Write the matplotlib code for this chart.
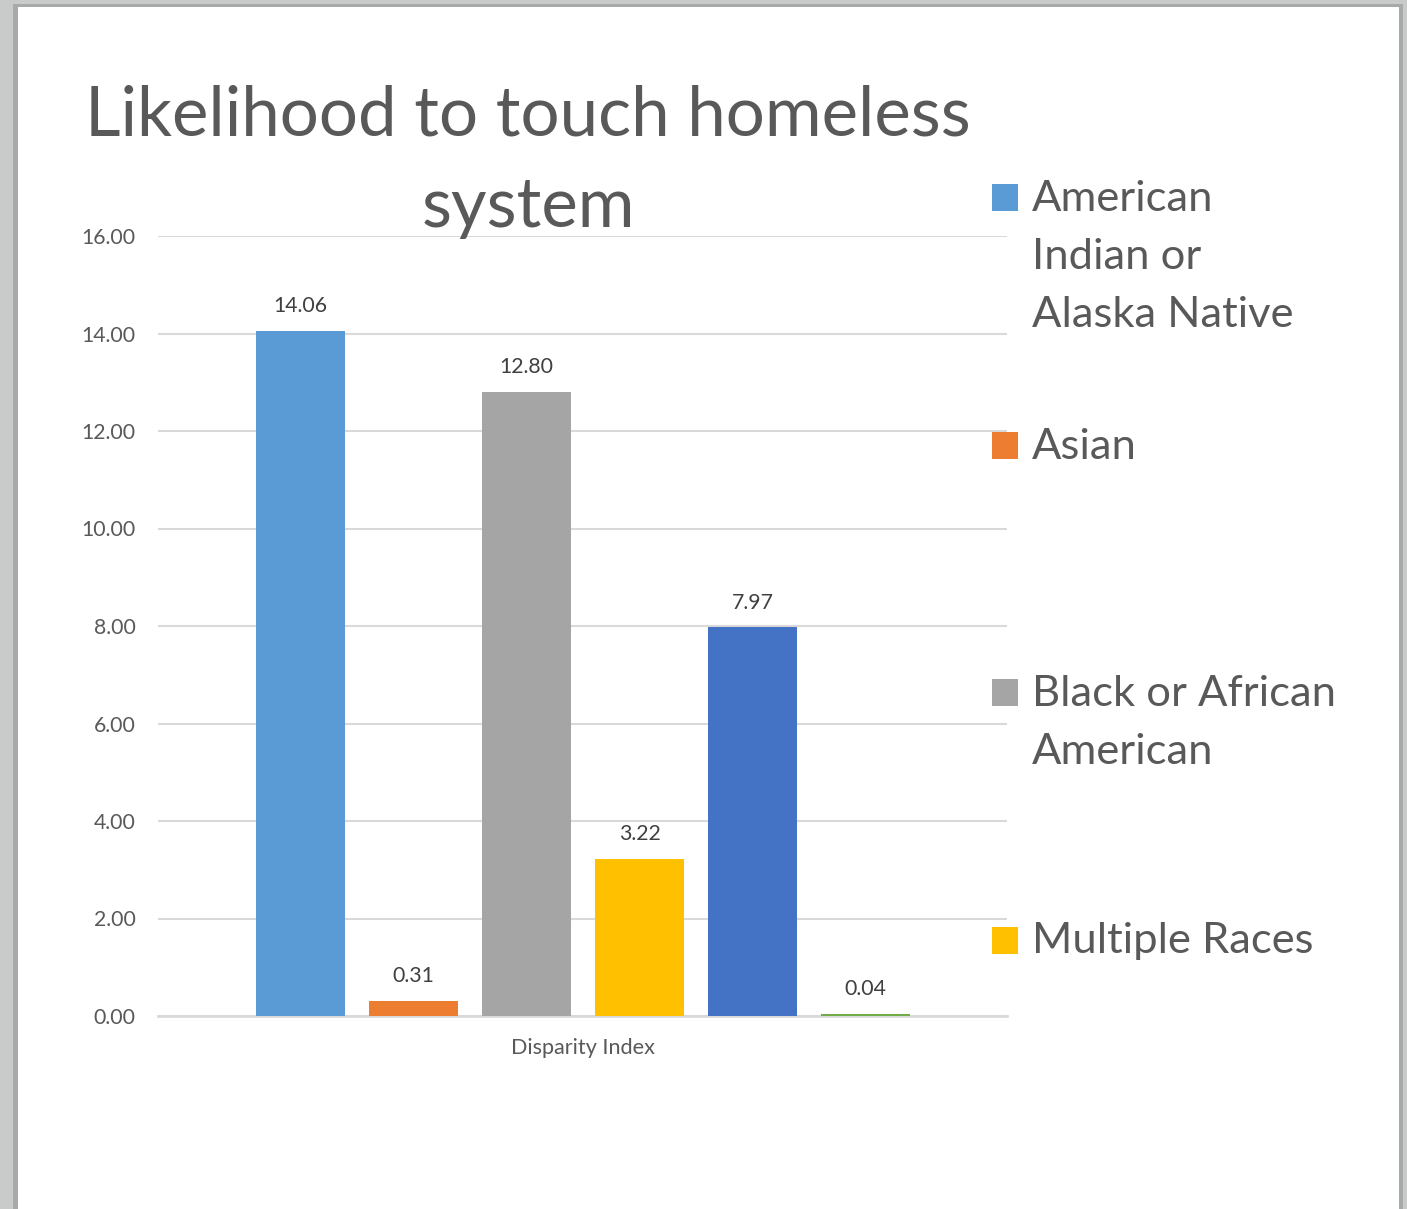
import matplotlib.pyplot as plt
from matplotlib.patches import Rectangle

plt.rcParams['font.family'] = ['Lato', 'DejaVu Sans']

groups = ['American Indian or Alaska Native', 'Asian', 'Black or African American',
          'Multiple Races', 'White', 'Other']
values = [14.06, 0.31, 12.80, 3.22, 7.97, 0.04]
colors = ['#5B9BD5', '#ED7D31', '#A5A5A5', '#FFC000', '#4472C4', '#70AD47']
legend_labels = ['American\nIndian or\nAlaska Native', 'Asian',
                 'Black or African\nAmerican', 'Multiple Races']
title_lines = ['Likelihood to touch homeless', 'system']
category = 'Disparity Index'
yticks = [0, 2, 4, 6, 8, 10, 12, 14, 16]

W, H = 1407, 1209
fig = plt.figure(figsize=(W / 100, H / 100), dpi=100)
fig.patch.set_facecolor('#C9CBCA')


def fx(px):
    return px / W


def fy(py):
    return 1 - py / H


# page sheet with a thin shadow edge
fig.add_artist(Rectangle((fx(13), 0), fx(1403) - fx(13), fy(4) - 0,
                         transform=fig.transFigure, facecolor='#A8AAA9',
                         edgecolor='none', zorder=0))
fig.add_artist(Rectangle((fx(18), 0), fx(1399) - fx(18), fy(7),
                         transform=fig.transFigure, facecolor='white',
                         edgecolor='none', zorder=0))

ax = fig.add_axes([fx(158), fy(1016), fx(1007) - fx(158), fy(236) - fy(1016)])
ax.set_facecolor('none')

x = list(range(len(values)))
bars = ax.bar(x, values, width=0.79, color=colors, zorder=3)
for xi, v in zip(x, values):
    ax.annotate(f'{v:.2f}', (xi, v), xytext=(0, 10.5), textcoords='offset points',
                ha='center', va='bottom', fontsize=15.3, color='#404040')

ax.set_xlim(-1.26, 6.25)
ax.set_ylim(0, 16)
ax.set_yticks(yticks)
ax.set_yticklabels([f'{t:.2f}' for t in yticks], fontsize=15.3, color='#595959')
ax.set_xticks([2.5])
ax.set_xticklabels([category], fontsize=15.6, color='#595959')
ax.tick_params(axis='both', length=0)
ax.tick_params(axis='y', pad=16)
ax.tick_params(axis='x', pad=16)
ax.grid(axis='y', color='#D9D9D9', linewidth=1.5, zorder=0)
for side in ['top', 'right', 'left']:
    ax.spines[side].set_visible(False)
ax.spines['bottom'].set_color('#D9D9D9')
ax.spines['bottom'].set_linewidth(2)

# title, one text per wrapped line
for i, line in enumerate(title_lines):
    fig.text(fx(528), fy(135 + 92 * i), line, ha='center', va='baseline',
             fontsize=49.7, color='#595959')

# legend entries, evenly spaced, marker on the first line
for i, (lab, col) in enumerate(zip(legend_labels, colors)):
    ytop = 184 + i * 247.5
    fig.add_artist(Rectangle((fx(992), fy(ytop + 27)), fx(26), 27 / H,
                             transform=fig.transFigure, facecolor=col,
                             edgecolor='none'))
    fig.text(fx(1032), fy(ytop - 4), lab, ha='left', va='top', fontsize=31.3,
             color='#595959', linespacing=1.64)

fig.savefig('out.png', dpi=100)
